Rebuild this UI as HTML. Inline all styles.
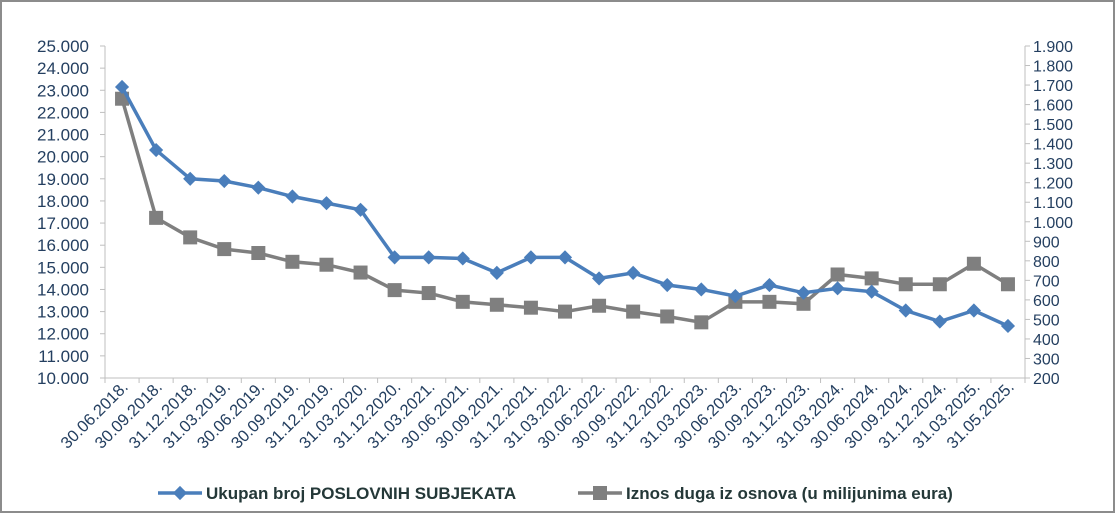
<!DOCTYPE html>
<html><head><meta charset="utf-8"><style>
html,body{margin:0;padding:0;background:#fff}
svg{display:block;font-family:"Liberation Sans",sans-serif}
</style></head><body>
<svg id="chart" width="1115" height="513">
<rect x="1" y="1" width="1113" height="511" fill="#fff" stroke="#8c8c8c" stroke-width="2"/>
<g id="axes"></g><g id="series"></g>
<g>
<g>
<line x1="158" y1="493" x2="202" y2="493" stroke="#4a7ebb" stroke-width="3.5"/>
<rect x="175" y="488" width="10" height="10" fill="#4a7ebb" transform="rotate(45 180 493)"/>
<text x="206" y="499" font-size="17" font-weight="bold" fill="#243838">Ukupan broj POSLOVNIH SUBJEKATA</text></g>
<g>
<line x1="578" y1="493" x2="622" y2="493" stroke="#7f7f7f" stroke-width="3.5"/>
<rect x="593" y="486" width="14" height="14" fill="#7f7f7f"/>
<text x="626" y="499" font-size="17" font-weight="bold" fill="#243838">Iznos duga iz osnova (u milijunima eura)</text></g>
</g>
</svg>
<script>
const categories=["30.06.2018.","30.09.2018.","31.12.2018.","31.03.2019.","30.06.2019.","30.09.2019.","31.12.2019.","31.03.2020.","31.12.2020.","31.03.2021.","30.06.2021.","30.09.2021.","31.12.2021.","31.03.2022.","30.06.2022.","30.09.2022.","31.12.2022.","31.03.2023.","30.06.2023.","30.09.2023.","31.12.2023.","31.03.2024.","30.06.2024.","30.09.2024.","31.12.2024.","31.03.2025.","31.05.2025."];
const subjects=[23150,20300,19000,18900,18600,18200,17900,17600,15450,15450,15400,14750,15450,15450,14500,14750,14200,14000,13700,14200,13850,14050,13900,13050,12550,13050,12350];
const debt=[1630,1020,920,860,840,795,780,740,650,635,590,575,560,540,570,540,515,485,590,590,580,730,710,680,680,785,680];
const leftTicks=[10000,11000,12000,13000,14000,15000,16000,17000,18000,19000,20000,21000,22000,23000,24000,25000];
const rightTicks=[200,300,400,500,600,700,800,900,1000,1100,1200,1300,1400,1500,1600,1700,1800,1900];
const NS="http://www.w3.org/2000/svg";
const X0=105,X1=1025,Y0=378,Y1=46;
const step=(X1-X0)/categories.length;
const x=i=>X0+step*(i+0.5);
const yL=v=>Y0-(v-10000)/15000*(Y0-Y1);
const yR=v=>Y0-(v-200)/1700*(Y0-Y1);
const fmt=v=>{const s=String(v);return s.length>3?s.slice(0,-3)+"."+s.slice(-3):s;};
function mk(t,a,p){const e=document.createElementNS(NS,t);for(const k in a)e.setAttribute(k,a[k]);p.appendChild(e);return e;}
const ax=document.getElementById("axes"),se=document.getElementById("series");
const tc="#243f60";
mk("line",{x1:X0,y1:Y1,x2:X0,y2:Y0,stroke:"#bfbfbf"},ax);
mk("line",{x1:X1,y1:Y1,x2:X1,y2:Y0,stroke:"#bfbfbf"},ax);
mk("line",{x1:X0,y1:Y0,x2:X1,y2:Y0,stroke:"#bfbfbf"},ax);
leftTicks.forEach(v=>{const y=yL(v);
 mk("line",{x1:X0-5,y1:y,x2:X0,y2:y,stroke:"#bfbfbf"},ax);
 const t=mk("text",{x:X0-16,y:y+6,"text-anchor":"end","font-size":17,fill:tc},ax);t.textContent=fmt(v);
 
 });
rightTicks.forEach(v=>{const y=yR(v);
 mk("line",{x1:X1,y1:y,x2:X1+5,y2:y,stroke:"#bfbfbf"},ax);
 const t=mk("text",{x:X1+8,y:y+6,"font-size":16,fill:tc},ax);t.textContent=fmt(v);
 
 });
for(let i=0;i<=categories.length;i++){const xx=X0+step*i;mk("line",{x1:xx,y1:Y0,x2:xx,y2:Y0+5,stroke:"#bfbfbf"},ax);}
categories.forEach((c,i)=>{const xx=x(i)+7,yy=388;
 const t=mk("text",{x:xx,y:yy,"text-anchor":"end","font-size":16.5,fill:tc,transform:`rotate(-45 ${xx} ${yy})`},ax);t.textContent=c;
 
 });
const pd=debt.map((v,i)=>x(i)+","+yR(v)).join(" ");
const l2=mk("polyline",{points:pd,fill:"none",stroke:"#7f7f7f","stroke-width":3.5},se);


debt.forEach((v,i)=>{const r=mk("rect",{x:x(i)-7,y:yR(v)-7,width:14,height:14,fill:"#7f7f7f"},se);
 
 });
const ps=subjects.map((v,i)=>x(i)+","+yL(v)).join(" ");
const l1=mk("polyline",{points:ps,fill:"none",stroke:"#4a7ebb","stroke-width":3.5},se);


subjects.forEach((v,i)=>{const cx=x(i),cy=yL(v);
 const r=mk("rect",{x:cx-5,y:cy-5,width:10,height:10,fill:"#4a7ebb",transform:`rotate(45 ${cx} ${cy})`},se);
 
 });
</script>
</body></html>
